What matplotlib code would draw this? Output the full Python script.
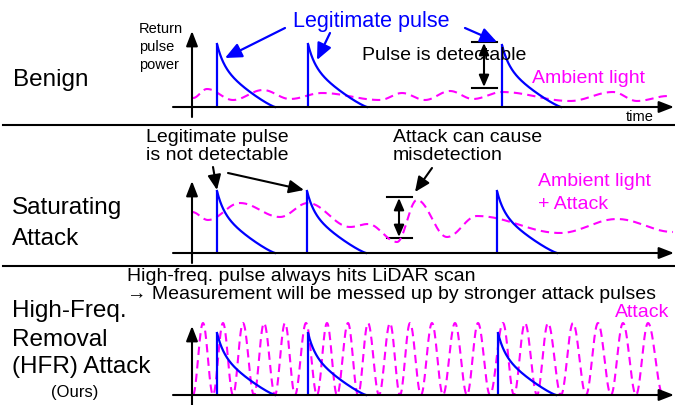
import numpy as np
import matplotlib
matplotlib.use('Agg')
import matplotlib.pyplot as plt

plt.rcParams['font.family'] = ['Liberation Sans', 'DejaVu Sans']

BLUE = '#0000FF'
MAG = '#FF00FF'
BLACK = '#000000'

# ---------------- data (pixel coordinates) -------------
# Panel 1 : Benign
pulse1_x = [217, 308, 502]
pulse1_end = [275, 367, 561]
pulse1_peak = [44, 44, 45]
base1 = 107
amb1_x = [193, 207, 233, 263, 290, 322, 380, 402, 425, 450, 473, 502, 570, 613, 637, 668]
amb1_y = [98, 89, 100, 90, 99, 93, 100, 93, 100, 91, 99, 92, 101, 92, 101, 96]

# Panel 2 : Saturating attack
pulse2_x = [217, 307, 497]
pulse2_end = [275, 366, 557]
pulse2_peak = [191, 191, 191]
base2 = 253
amb2_x = [192, 208, 240, 280, 308, 350, 368, 397, 417, 447, 477, 560, 617, 673]
amb2_y = [212, 220, 203, 217, 203, 227, 224, 242, 200, 237, 216, 233, 219, 232]

# Panel 3 : HFR attack
pulse3_x = [217, 308, 498]
pulse3_end = [275, 366, 556]
pulse3_peak = [333, 333, 333]
base3 = 395
atk_peaks_x = [203, 223, 243, 264, 285, 306, 327, 348, 368, 390, 410, 432, 455,
               478, 503, 525, 548, 573, 598, 623, 648]
atk_troughs_x = [193, 213, 233, 254, 275, 295, 317, 337, 358, 379, 400, 421, 443,
                 467, 490, 514, 537, 561, 586, 611, 636, 663]
atk_top = 323

# ---------------- figure ----------------
fig = plt.figure(figsize=(6.75, 4.05), dpi=100)
ax = fig.add_axes([0, 0, 1, 1])
ax.set_xlim(0, 675)
ax.set_ylim(405, 0)
ax.axis('off')


def smooth(xs, ys, n=30):
    X, Y = [], []
    for i in range(len(xs) - 1):
        t = np.linspace(0, 1, n, endpoint=False)
        s = (1 - np.cos(np.pi * t)) / 2
        X.extend(xs[i] + (xs[i + 1] - xs[i]) * t)
        Y.extend(ys[i] + (ys[i + 1] - ys[i]) * s)
    X.append(xs[-1])
    Y.append(ys[-1])
    return X, Y


def pulse(x0, xe, yp, yb):
    ax.plot([x0, x0], [yb, yp], color=BLUE, lw=1.6, solid_capstyle='butt', zorder=4)
    T = xe - x0
    t = np.linspace(0, T, 150)
    h = 0.35 * np.exp(-t / 7.0) + 0.65 * (1 - t / T) ** 1.2
    h = h - 0.35 * np.exp(-T / 7.0) * (t / T)
    ax.plot(x0 + t, yb - (yb - yp) * h, color=BLUE, lw=1.6, zorder=4)


def arrow(tail, tip, color=BLACK, lw=1.5, hl=0.8, hw=0.35, style='-|>'):
    ax.annotate('', xy=tip, xytext=tail,
                arrowprops=dict(arrowstyle=f'{style},head_length={hl},head_width={hw}',
                                color=color, lw=lw, shrinkA=0, shrinkB=0,
                                mutation_scale=10), zorder=5)


def txt(x, y, s, size, color=BLACK, ha='left'):
    ax.text(x, y, s, fontsize=size, color=color, ha=ha, va='baseline', zorder=6)


DASH = (0, (4, 2.5))

# separators
ax.plot([3, 675], [125, 125], color=BLACK, lw=1.5)
ax.plot([3, 675], [266, 266], color=BLACK, lw=1.5)

# ---- Panel 1 ----
arrow((192, 117), (192, 31), hl=0.9, hw=0.35)
arrow((173, base1), (674, base1), hl=0.9, hw=0.35)
x, y = smooth(amb1_x, amb1_y)
ax.plot(x, y, color=MAG, lw=1.5, ls=DASH, zorder=3)
for a, b, c in zip(pulse1_x, pulse1_end, pulse1_peak):
    pulse(a, b, c, base1)
txt(139, 33, 'Return', 10.5)
txt(139, 51, 'pulse', 10.5)
txt(139, 69, 'power', 10.5)
txt(293, 27, 'Legitimate pulse', 15.5, BLUE)
arrow((285, 28), (225, 58), BLUE, 1.6, 1.0, 0.45)
arrow((330, 33), (317, 60), BLUE, 1.6, 1.0, 0.45)
arrow((465, 28), (497, 42), BLUE, 1.6, 1.0, 0.45)
txt(362, 60, 'Pulse is detectable', 14)
ax.plot([472, 497], [42, 42], color=BLACK, lw=1.5)
ax.plot([472, 497], [88, 88], color=BLACK, lw=1.5)
arrow((484, 65), (484, 43), hl=0.7, hw=0.3)
arrow((484, 65), (484, 87), hl=0.7, hw=0.3)
txt(532, 83, 'Ambient light', 14, MAG)
txt(626, 121, 'time', 10.5)
txt(13, 86, 'Benign', 17.5)

# ---- Panel 2 ----
arrow((192, 263), (192, 181), hl=0.9, hw=0.35)
arrow((173, base2), (674, base2), hl=0.9, hw=0.35)
x, y = smooth(amb2_x, amb2_y)
ax.plot(x, y, color=MAG, lw=1.5, ls=DASH, zorder=3)
for a, b, c in zip(pulse2_x, pulse2_end, pulse2_peak):
    pulse(a, b, c, base2)
txt(146, 142, 'Legitimate pulse', 14)
txt(146, 160, 'is not detectable', 14)
arrow((213, 167), (217, 190), hl=0.9, hw=0.4)
arrow((228, 173), (304, 190), hl=0.9, hw=0.4)
txt(393, 142, 'Attack can cause', 14)
txt(393, 160, 'misdetection', 14)
arrow((432, 168), (415, 192), hl=0.9, hw=0.4)
ax.plot([387, 412], [197, 197], color=BLACK, lw=1.5)
ax.plot([387, 412], [238, 238], color=BLACK, lw=1.5)
arrow((399, 217), (399, 198), hl=0.7, hw=0.3)
arrow((399, 217), (399, 237), hl=0.7, hw=0.3)
txt(538, 186, 'Ambient light', 14, MAG)
txt(538, 209, '+ Attack', 14, MAG)
txt(12, 214, 'Saturating', 17.5)
txt(12, 245, 'Attack', 17.5)

# ---- Panel 3 ----
arrow((192, 405), (192, 326), hl=0.9, hw=0.35)
arrow((173, base3), (674, base3), hl=0.9, hw=0.35)
wx = sorted(atk_peaks_x + atk_troughs_x)
wy = [atk_top if v in atk_peaks_x else base3 for v in wx]
x, y = smooth(wx, wy)
ax.plot(x, y, color=MAG, lw=1.5, ls=DASH, zorder=3)
for a, b, c in zip(pulse3_x, pulse3_end, pulse3_peak):
    pulse(a, b, c, base3)
txt(127, 281, 'High-freq. pulse always hits LiDAR scan', 14)
txt(127, 299, '\u2192 Measurement will be messed up by stronger attack pulses', 14)
txt(615, 317, 'Attack', 14, MAG)
txt(12, 317, 'High-Freq.', 17.5)
txt(12, 346, 'Removal', 17.5)
txt(12, 373, '(HFR) Attack', 17.5)
txt(75, 397, '(Ours)', 12, ha='center')

fig.savefig('out.png', dpi=100)
